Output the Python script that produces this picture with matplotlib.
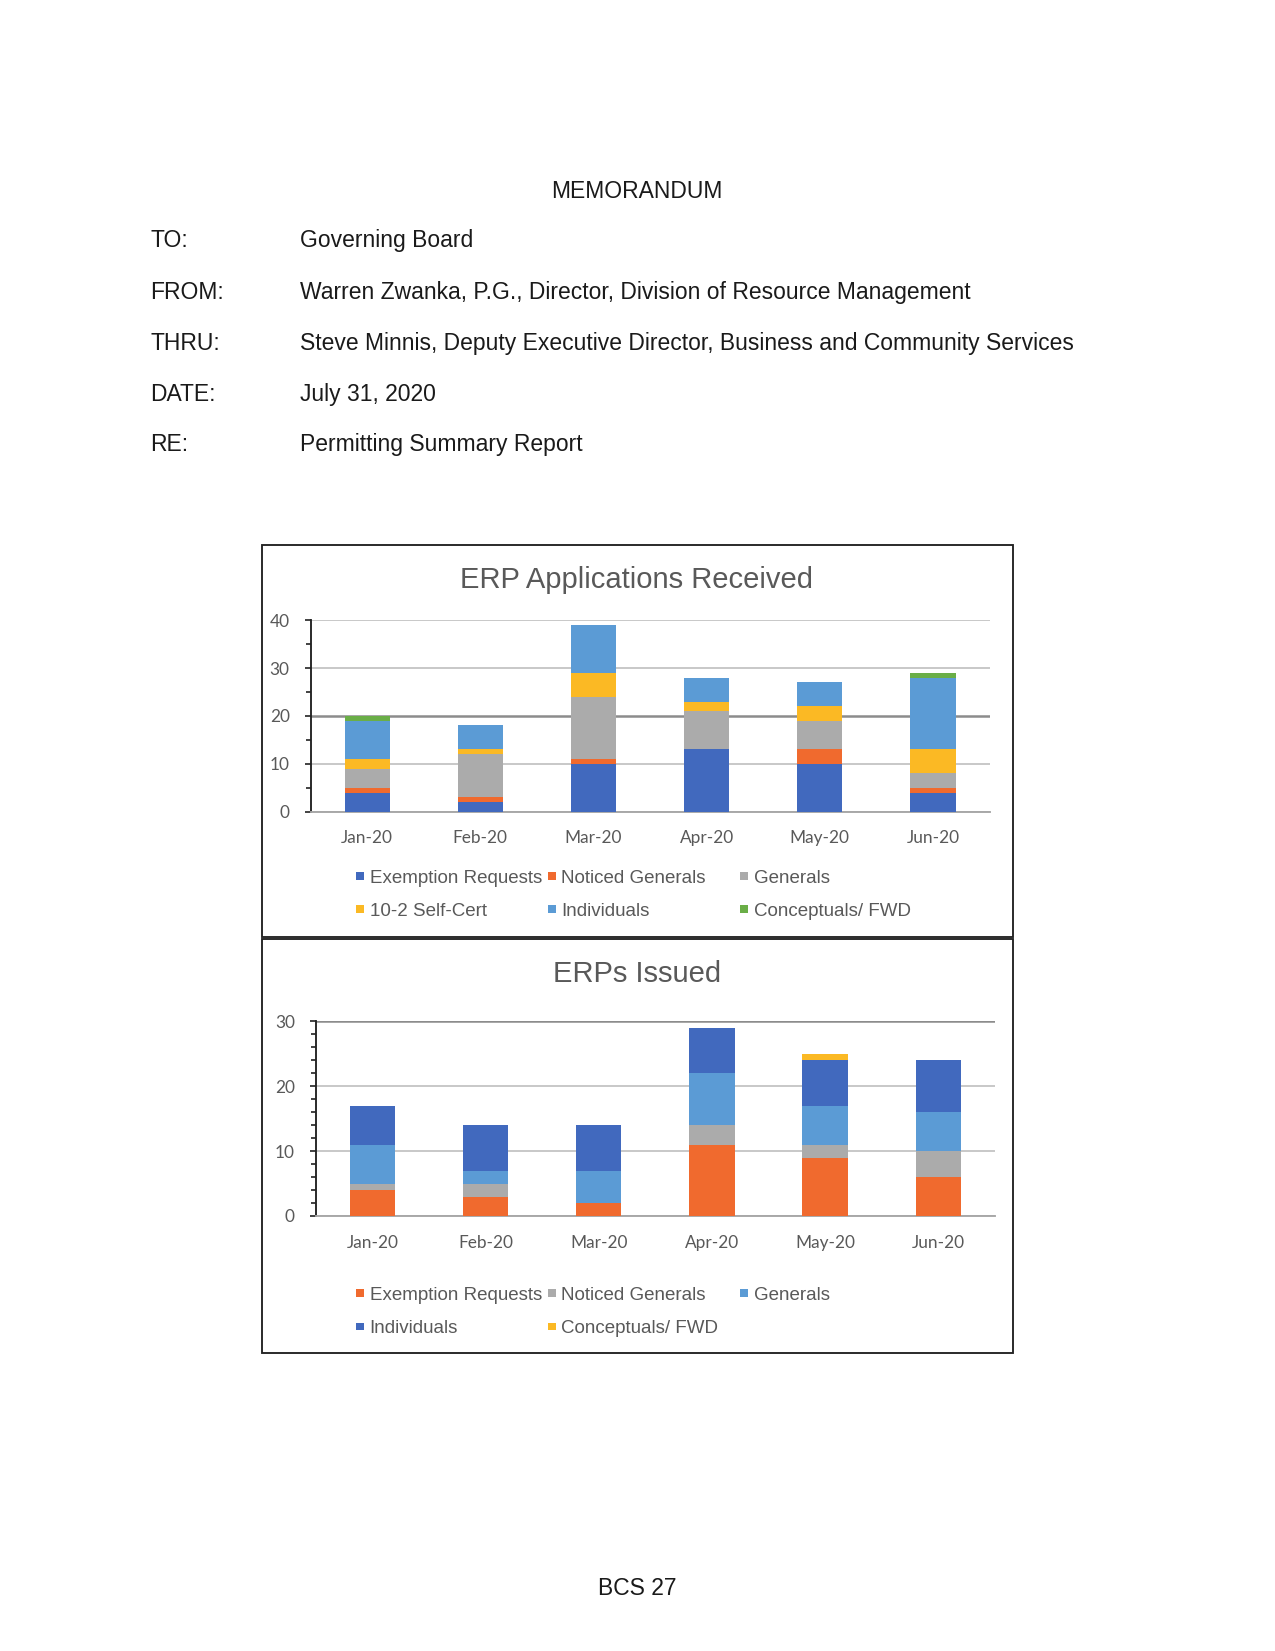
import matplotlib
matplotlib.use("Agg")
import matplotlib.pyplot as plt
import numpy as np
from matplotlib.patches import Rectangle
from matplotlib.ticker import MultipleLocator

W, H = 1275, 1651
DPI = 150

months = ["Jan-20", "Feb-20", "Mar-20", "Apr-20", "May-20", "Jun-20"]

# ERP Applications Received
rec_labels = ["Exemption Requests", "Noticed Generals", "Generals",
              "10-2 Self-Cert", "Individuals", "Conceptuals/ FWD"]
rec_exempt = [4, 2, 10, 13, 10, 4]
rec_noticed = [1, 1, 1, 0, 3, 1]
rec_generals = [4, 9, 13, 8, 6, 3]
rec_selfcert = [2, 1, 5, 2, 3, 5]
rec_individuals = [8, 5, 10, 5, 5, 15]
rec_conceptuals = [1, 0, 0, 0, 0, 1]
rec_colors = ["#4169BE", "#F06A2E", "#ABABAB", "#FBB924", "#5B9BD5", "#6AAE47"]

# ERPs Issued
iss_labels = ["Exemption Requests", "Noticed Generals", "Generals",
              "Individuals", "Conceptuals/ FWD"]
iss_exempt = [4, 3, 2, 11, 9, 6]
iss_noticed = [1, 2, 0, 3, 2, 4]
iss_generals = [6, 2, 5, 8, 6, 6]
iss_individuals = [6, 7, 7, 7, 7, 8]
iss_conceptuals = [0, 0, 0, 0, 1, 0]
iss_colors = ["#F06A2E", "#ABABAB", "#5B9BD5", "#4169BE", "#FBB924"]

body_font = ["Liberation Sans", "DejaVu Sans"]
tick_font = ["Lato", "DejaVu Sans"]
gray_txt = "#595959"

fig = plt.figure(figsize=(W / DPI, H / DPI), dpi=DPI)
fig.patch.set_facecolor("white")


def fx(x):
    return x / W


def fy(y):
    return 1 - y / H


# Memo header
fig.text(fx(637), fy(197.7), "MEMORANDUM", ha="center", va="baseline",
         fontsize=11, family=body_font, color="#1a1a1a")
memo_rows = [("TO:", "Governing Board", 247.2),
             ("FROM:", "Warren Zwanka, P.G., Director, Division of Resource Management", 298.8),
             ("THRU:", "Steve Minnis, Deputy Executive Director, Business and Community Services", 350.4),
             ("DATE:", "July 31, 2020", 400.9),
             ("RE:", "Permitting Summary Report", 451.4)]
for lab, val, yb in memo_rows:
    fig.text(fx(150.5), fy(yb), lab, ha="left", va="baseline", fontsize=11,
             family=body_font, color="#1a1a1a")
    fig.text(fx(300), fy(yb), val, ha="left", va="baseline", fontsize=11,
             family=body_font, color="#1a1a1a")

fig.text(fx(637), fy(1594.8), "BCS 27", ha="center", va="baseline",
         fontsize=11, family=body_font, color="#1a1a1a")

# Chart frames
for (y0, y1) in [(545, 937), (939, 1353)]:
    fig.patches.append(Rectangle((fx(262), fy(y1)), fx(1013) - fx(262), fy(y0) - fy(y1),
                                 transform=fig.transFigure, fill=False,
                                 edgecolor="#222222", linewidth=0.9))


def make_chart(left, right, top, bottom, ymax, minor, series, colors, labels,
               title, title_base, legend_rows, dark_grid):
    ax = fig.add_axes([fx(left), fy(bottom), fx(right) - fx(left), fy(top) - fy(bottom)])
    x = np.arange(len(months))
    base = np.zeros(len(months))
    for vals, col, lab in zip(series, colors, labels):
        v = np.array(vals, dtype=float)
        ax.bar(x, v, width=0.40, bottom=base, color=col, label=lab, zorder=3,
               linewidth=0)
        base += v
    ax.set_xlim(-0.5, len(months) - 0.5)
    ax.set_ylim(0, ymax)
    ax.yaxis.set_major_locator(MultipleLocator(10))
    ax.yaxis.set_minor_locator(MultipleLocator(minor))
    ax.set_xticks(x)
    ax.set_xticklabels(months)
    for s in ["top", "right"]:
        ax.spines[s].set_visible(False)
    ax.spines["left"].set_color("#222222")
    ax.spines["left"].set_linewidth(0.9)
    ax.spines["bottom"].set_color("#A6A6A6")
    ax.spines["bottom"].set_linewidth(0.9)
    ax.grid(axis="y", which="major", color="#BFBFBF", linewidth=0.8, zorder=0)
    for gl, t in zip(ax.get_ygridlines(), ax.get_yticks()):
        if t == dark_grid:
            gl.set_color("#8C8C8C")
            gl.set_linewidth(1.2)
    ax.tick_params(axis="x", length=0, pad=9, labelsize=8.3, labelcolor=gray_txt)
    ax.tick_params(axis="y", which="major", length=3, width=0.8, color="#222222",
                   pad=7, labelsize=8.3, labelcolor=gray_txt)
    ax.tick_params(axis="y", which="minor", length=2.5, width=0.8, color="#222222")
    for lbl in ax.get_xticklabels() + ax.get_yticklabels():
        lbl.set_family(tick_font)
    ax.set_facecolor("none")
    fig.text(fx(637), fy(title_base), title, ha="center", va="baseline",
             fontsize=14, family=body_font, color=gray_txt)
    # legend laid out like the Excel legend (row-wise, three columns)
    col_x = [360, 551.7, 744.3]
    for i, (lab, col) in enumerate(zip(labels, colors)):
        r, c = divmod(i, 3)
        yc = legend_rows[r]
        sz = 7.8
        fig.patches.append(Rectangle((fx(col_x[c] - sz / 2), fy(yc + sz / 2)),
                                     fx(sz), sz / H, transform=fig.transFigure,
                                     facecolor=col, edgecolor="none"))
        fig.text(fx(col_x[c] + 9.5), fy(yc + 6.7), lab, ha="left", va="baseline",
                 fontsize=9, family=body_font, color=gray_txt)
    return ax


make_chart(310.6, 989.6, 620.1, 811.7, 40, 5,
           [rec_exempt, rec_noticed, rec_generals, rec_selfcert, rec_individuals, rec_conceptuals],
           rec_colors, rec_labels, "ERP Applications Received", 588.5, [876, 909.3], 20)

make_chart(315.8, 994.9, 1021.2, 1216.0, 30, 2,
           [iss_exempt, iss_noticed, iss_generals, iss_individuals, iss_conceptuals],
           iss_colors, iss_labels, "ERPs Issued", 982.2, [1293, 1326.5], 30)

fig.savefig("out.png", dpi=DPI, facecolor="white")
